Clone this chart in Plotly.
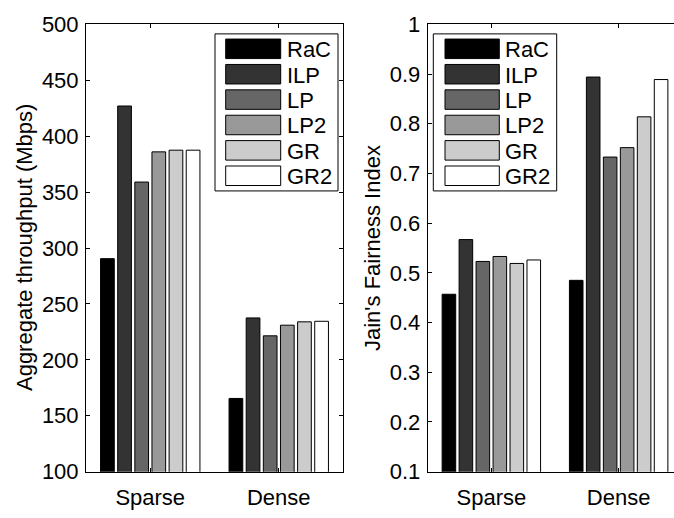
import plotly.graph_objects as go

# Scenarios on the x axis and the six allocation schemes
scenarios = ["Sparse", "Dense"]
methods = ["RaC", "ILP", "LP", "LP2", "GR", "GR2"]
fills = ["#000000", "#333333", "#666666", "#999999", "#cccccc", "#ffffff"]

# Aggregate throughput (Mbps), one value per method
throughput_sparse = [290.5, 427, 359, 386, 387.5, 387.5]
throughput_dense = [165.5, 237.5, 221.5, 231, 234, 234.5]

# Jain's fairness index, one value per method
fairness_sparse = [0.457, 0.567, 0.523, 0.533, 0.519, 0.526]
fairness_dense = [0.485, 0.894, 0.733, 0.752, 0.814, 0.889]

W, H = 674, 518
FONT = "Liberation Sans, Arial, Helvetica, sans-serif"
FS = 22


def px_x(v):
    return v / W


def px_y(v):
    return 1 - v / H


fig = go.Figure()
xpos = list(range(len(scenarios)))
for i, m in enumerate(methods):
    fig.add_trace(go.Bar(
        x=xpos, y=[throughput_sparse[i], throughput_dense[i]],
        marker=dict(color=fills[i], line=dict(color="#000000", width=1)),
        name=m, xaxis="x", yaxis="y", showlegend=False))
    fig.add_trace(go.Bar(
        x=xpos, y=[fairness_sparse[i], fairness_dense[i]],
        marker=dict(color=fills[i], line=dict(color="#000000", width=1)),
        name=m, xaxis="x2", yaxis="y2", showlegend=False))

top, bottom = 13, 483
left1, right1 = 86, 343
left2 = 427.7
unit2 = 127.3  # pixels per category step on the right panel

axis_common = dict(
    showline=True, linecolor="#000000", linewidth=1,
    ticks="inside", ticklen=4, tickcolor="#000000", tickwidth=1,
    showgrid=False, zeroline=False,
    tickfont=dict(family=FONT, size=FS, color="#000000"),
)

fig.update_layout(
    width=W, height=H,
    margin=dict(l=0, r=0, t=0, b=0),
    paper_bgcolor="white", plot_bgcolor="white",
    barmode="group", bargap=0.2, bargroupgap=0.2,
    font=dict(family=FONT, size=FS, color="#000000"),
    xaxis=dict(domain=[px_x(left1), px_x(right1)], anchor="y",
               range=[-0.5, 1.5], tickvals=xpos, ticktext=scenarios,
               mirror="ticks", ticklabelstandoff=6, **axis_common),
    yaxis=dict(domain=[px_y(bottom), px_y(top)], anchor="x",
               range=[100, 500], tickvals=list(range(100, 501, 50)),
               mirror="ticks", ticklabelstandoff=2, **axis_common),
    # Right panel runs off the page edge: no right-hand spine
    xaxis2=dict(domain=[px_x(left2), 1.0], anchor="y2",
                range=[-0.5, -0.5 + (W - left2) / unit2],
                tickvals=xpos, ticktext=scenarios,
                mirror="ticks", ticklabelstandoff=6, **axis_common),
    yaxis2=dict(domain=[px_y(bottom), px_y(top)], anchor="x2",
                range=[0.1, 1.0],
                tickvals=[0.1, 0.2, 0.3, 0.4, 0.5, 0.6, 0.7, 0.8, 0.9, 1.0],
                ticktext=["0.1", "0.2", "0.3", "0.4", "0.5", "0.6", "0.7",
                          "0.8", "0.9", "1"],
                mirror=False, ticklabelstandoff=2, **axis_common),
)

shapes = []
annotations = []

# Axis titles
annotations.append(dict(
    text="Aggregate throughput (Mbps)", textangle=-90,
    x=px_x(24), y=px_y((top + bottom) / 2), xref="paper", yref="paper",
    xanchor="center", yanchor="middle", showarrow=False,
    font=dict(family=FONT, size=FS, color="#000000")))
annotations.append(dict(
    text="Jain's Fairness Index", textangle=-90,
    x=px_x(372), y=px_y((top + bottom) / 2), xref="paper", yref="paper",
    xanchor="center", yanchor="middle", showarrow=False,
    font=dict(family=FONT, size=FS, color="#000000")))


# Boxed legends with large swatches, one per panel
def add_legend(box_l, box_r, sw_l, sw_r, text_l):
    box_t, box_b = 23, 188
    shapes.append(dict(type="rect", xref="paper", yref="paper",
                       x0=px_x(box_l), x1=px_x(box_r),
                       y0=px_y(box_b), y1=px_y(box_t),
                       line=dict(color="#000000", width=1),
                       fillcolor="white", layer="above"))
    row0, step, sw_h = 38.7, 26.67, 20.5
    for i, m in enumerate(methods):
        cy = row0 + i * step
        shapes.append(dict(type="rect", xref="paper", yref="paper",
                           x0=px_x(sw_l), x1=px_x(sw_r),
                           y0=px_y(cy + sw_h / 2), y1=px_y(cy - sw_h / 2),
                           line=dict(color="#000000", width=1),
                           fillcolor=fills[i], layer="above"))
        annotations.append(dict(
            text=m, x=px_x(text_l), y=px_y(cy + 1), xref="paper", yref="paper",
            xanchor="left", yanchor="middle", showarrow=False,
            font=dict(family=FONT, size=FS, color="#000000")))


add_legend(215, 338, 225.7, 280.7, 284.5)
add_legend(433.3, 556.7, 445, 499.3, 503)

fig.update_layout(shapes=shapes, annotations=annotations)
fig.write_html("out.html")
